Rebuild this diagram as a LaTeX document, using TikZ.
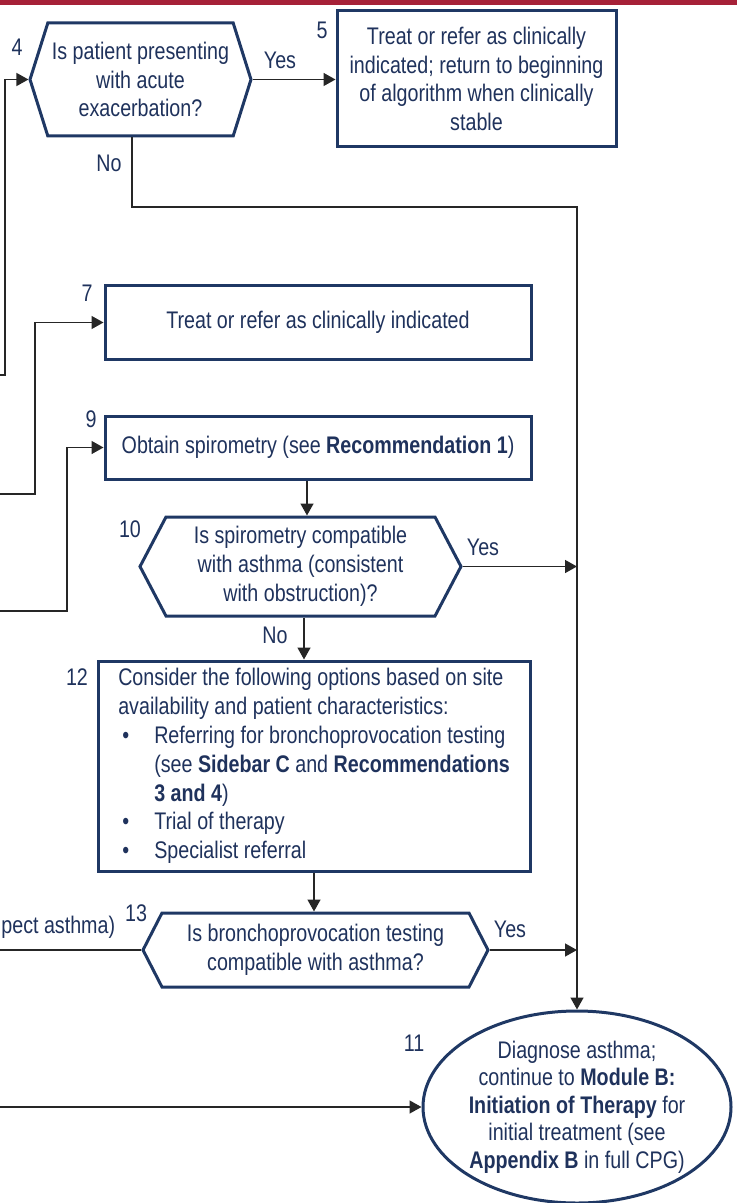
\documentclass[tikz,border=0pt]{standalone}
\usepackage{fontspec}
\setmainfont[FakeStretch=0.82]{Liberation Sans}
\usetikzlibrary{shapes.symbols,shapes.geometric,arrows.meta}
\definecolor{navy}{RGB}{31,56,100}
\definecolor{ink}{RGB}{31,50,92}
\definecolor{crimson}{RGB}{166,33,56}
\newcommand{\itembul}{\hspace*{2pt}\makebox[16pt][l]{\textbullet}}
\newcommand{\itemind}{\hspace*{18pt}}
\begin{document}
\begin{tikzpicture}[x=0.5pt,y=-0.5pt,
  font=\fontsize{12}{14.4}\selectfont,
  every node/.style={text=ink},
  box/.style={draw=navy,line width=1.5pt,fill=white,inner sep=0pt,align=center},
  hexq/.style={shape=signal,signal to=east and west,draw=navy,line width=1.5pt,
               fill=white,inner sep=0pt,align=center},
  num/.style={inner sep=0pt},
  conn/.style={draw=black!85,line width=0.75pt},
  arr/.style={conn,-{Triangle[length=6pt,width=6.5pt]}},
]
\useasboundingbox (0,0) rectangle (737,1203);
\fill[crimson] (0,0) rectangle (737,5);

% decision and action nodes
\node[hexq,minimum width=110.5pt,minimum height=56.5pt,signal pointer angle=145] (q4)
  at (140.5,79.5) {Is patient presenting\\with acute\\exacerbation?};
\node[box,minimum width=139.5pt,minimum height=68pt] (s5) at (476.5,79)
  {Treat or refer as clinically\\indicated; return to beginning\\of algorithm when clinically\\stable};
\node[box,minimum width=213pt,minimum height=36.5pt] (s7) at (318,322.5)
  {Treat or refer as clinically indicated};
\node[box,minimum width=213pt,minimum height=31.5pt] (s9) at (318,447.5)
  {Obtain spirometry (see \textbf{Recommendation 1})};
\node[hexq,minimum width=160.5pt,minimum height=49.5pt,signal pointer angle=124.6] (q10)
  at (300.5,566.5) {Is spirometry compatible\\with asthma (consistent\\with obstruction)?};
\node[box,minimum width=216pt,minimum height=105pt,align=left] (s12) at (314,766)
  {Consider the following options based on site\\
   availability and patient characteristics:\\
   \itembul Referring for bronchoprovocation testing\\
   \itemind (see \textbf{Sidebar C} and \textbf{Recommendations}\\
   \itemind \textbf{3 and 4})\\
   \itembul Trial of therapy\\
   \itembul Specialist referral};
\node[hexq,minimum width=172.5pt,minimum height=37pt,signal pointer angle=125.7] (q13)
  at (315.5,950) {Is bronchoprovocation testing\\compatible with asthma?};
\node[draw=navy,line width=1.5pt,ellipse,minimum width=154pt,minimum height=96pt,
      inner sep=0pt,align=center,font=\fontsize{12}{13.75}\selectfont] (dx) at (577,1107)
  {Diagnose asthma;\\continue to \textbf{Module B:}\\\textbf{Initiation of Therapy} for\\
   initial treatment (see\\\textbf{Appendix B} in full CPG)};

% step numbers
\node[num] (l4) at (17,47) {4};
\node[num] (l5) at (322,30) {5};
\node[num] (l7) at (87,293) {7};
\node[num] (l9) at (91,419) {9};
\node[num] (l10) at (130,529) {10};
\node[num] (l12) at (77,677) {12};
\node[num] (l13) at (136,913) {13};
\node[num] (l11) at (414,1043) {11};

% branch labels
\node (y4) at (280,60) {Yes};
\node (no4) at (109,163) {No};
\node (y10) at (483,547) {Yes};
\node (no10) at (275,635) {No};
\node (y13) at (510,929) {Yes};
\node[anchor=west,inner sep=0pt] (cut) at (1,927) {pect asthma)};

% connectors
\coordinate (in4) at (0,375);
\coordinate (in4b) at (5,375);
\coordinate (bend4) at (132,207);
\coordinate (trunk) at (577,207);
\coordinate (in7) at (0,494);
\coordinate (in7b) at (35,494);
\coordinate (in9) at (0,611);
\coordinate (in9b) at (67,611);
\coordinate (out13) at (0,950);
\coordinate (in11) at (0,1107);

\draw[arr] (in4) -- (in4b) |- (q4.west);
\draw[arr] (q4.east) -- (s5.west |- q4.east);
\draw[arr] (bend4 |- q4.south) -- (bend4) -- (trunk) -- (dx.north);
\draw[arr] (in7) -- (in7b) |- (s7.west);
\draw[arr] (in9) -- (in9b) |- (s9.west);
\draw[arr] ([xshift=-5.5pt]s9.south) -- ([xshift=-5.5pt]s9.south |- q10.north);
\draw[arr] (q10.east) -- (trunk |- q10.east);
\draw[arr] ([xshift=1.75pt]q10.south) -- ([xshift=1.75pt]q10.south |- s12.north);
\draw[arr] (s12.south) -- (s12.south |- q13.north);
\draw[arr] (q13.east) -- (trunk |- q13.east);
\draw[conn] (q13.west) -- (out13 |- q13.west);
\draw[arr] (in11 |- dx.west) -- (dx.west);
\end{tikzpicture}
\end{document}
